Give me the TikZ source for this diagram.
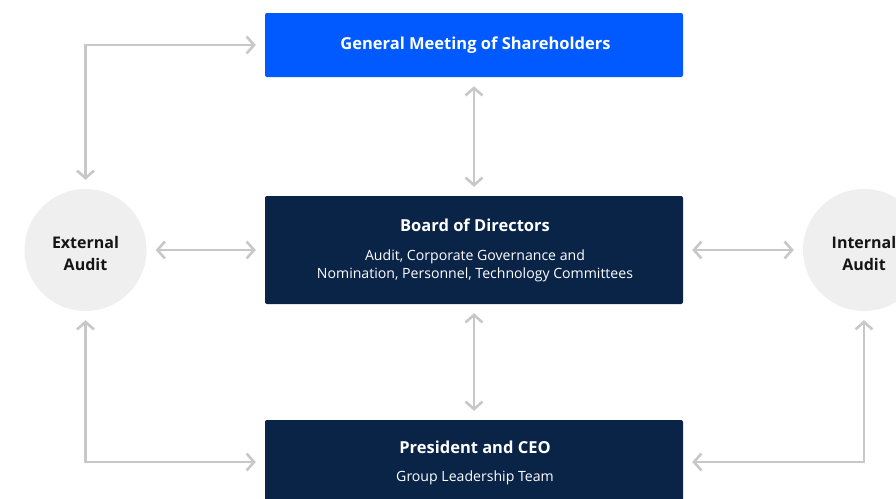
\documentclass[tikz,border=0pt]{standalone}
\usepackage{fontspec}
\setmainfont{Open Sans}
\usetikzlibrary{arrows.meta}
\definecolor{gmblue}{HTML}{005AFF}
\definecolor{navy}{HTML}{0A2448}
\definecolor{circfill}{HTML}{EFEFEF}
\definecolor{arrgray}{HTML}{C8C8CA}
\definecolor{ink}{HTML}{151515}
\tikzset{
  box/.style={rectangle, rounded corners=2pt, minimum width=418pt, inner sep=0pt},
  circ/.style={circle, fill=circfill, minimum size=122pt, inner sep=0pt, align=center,
    text=ink, font=\fontsize{16}{22}\selectfont\bfseries},
  title/.style={text=white, font=\fontsize{16.5}{20}\selectfont\bfseries, inner sep=0pt},
  sub/.style={text=white, font=\fontsize{14.1}{18.5}\selectfont, inner sep=0pt, align=center},
  arr/.style={draw=arrgray, line width=2.6pt,
    {Straight Barb[length=7.5pt,width=17pt]}-{Straight Barb[length=7.5pt,width=17pt]},
    shorten <=9pt, shorten >=9pt}
}
\begin{document}
\begin{tikzpicture}[x=1pt,y=-1pt]
\useasboundingbox (0,0) rectangle (896,498);
\fill[white] (0,0) rectangle (896,498);
% boxes
\node[box, fill=gmblue, minimum height=64pt] (gm) at (474,45) {};
\node[box, fill=navy, minimum height=108pt] (bod) at (474,250) {};
\node[box, fill=navy, minimum height=84pt] (ceo) at (474,462) {};
% circles
\node[circ] (ext) at (85.5,250) {};
\node[circ] (int) at (864,250) {};
\node[circ, fill=none, minimum size=0pt] (extt) at (85.5,253) {External\\Audit};
\node[circ, fill=none, minimum size=0pt] (intt) at (864,253) {Internal\\Audit};
% texts
\node[title] (gmt) at (475.5,45.5) {General Meeting of Shareholders};
\node[title] (bodt) at (475,225) {Board of Directors};
\node[sub] (bods) at (475,266) {Audit, Corporate Governance and\\Nomination, Personnel, Technology Committees};
\node[title] (ceot) at (475,447) {President and CEO};
\node[sub] (ceos) at (475,477.5) {Group Leadership Team};
% connectors
\draw[arr] (gm.south) -- (bod.north);
\draw[arr] (bod.south) -- (ceo.north);
\draw[arr] (ext.east) -- (bod.west);
\draw[arr] (bod.east) -- (int.west);
\draw[arr] (ext.north) |- (gm.west);
\draw[arr] (ext.south) |- (ceo.west);
\draw[arr] (int.south) |- (ceo.east);
\end{tikzpicture}
\end{document}
